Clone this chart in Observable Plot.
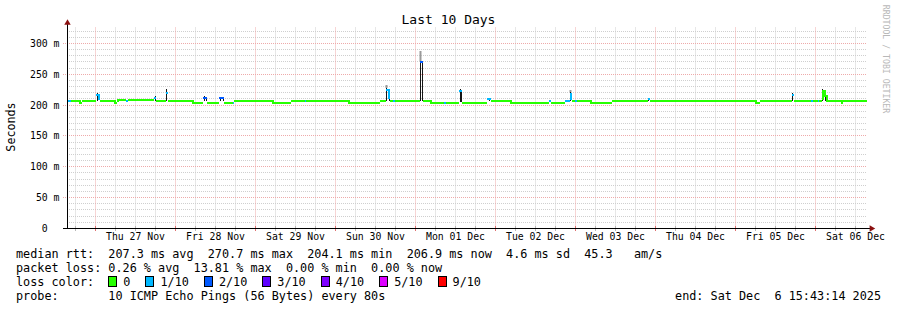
<!DOCTYPE html>
<html><head><meta charset="utf-8">
<script src="https://cdn.jsdelivr.net/npm/d3@7"></script>
<script src="https://cdn.jsdelivr.net/npm/@observablehq/plot@0.6"></script>
<style>
body{margin:0;background:#fff}
#wrap{position:relative;width:897px;height:310px;font-family:"DejaVu Sans Mono",monospace;color:#000;overflow:hidden;background:#fff}
#chart{position:absolute;left:0;top:0}
#title{position:absolute;left:0;width:897px;top:11.5px;text-align:center;font-size:13px;line-height:15px;white-space:pre}
#ylab{position:absolute;left:11px;top:127px;font-size:11.7px;line-height:14px;transform:translate(-50%,-50%) rotate(-90deg);white-space:pre}
#mark{position:absolute;left:886px;top:59px;font-size:8.2px;line-height:10px;color:#b8b8b8;transform:translate(-50%,-50%) rotate(90deg);white-space:pre}
#legend{position:absolute;left:16px;top:247px;font-size:11.8px;line-height:14px;white-space:pre}
#legend .row{height:14px}
.sw{display:inline-block;width:7px;height:9px;border:1px solid #000;vertical-align:-1px;margin-right:6px}
.lt{margin-right:15px}
#end{position:absolute;right:16px;top:289px;font-size:11.8px;line-height:14px;white-space:pre}
</style></head>
<body>
<div id="wrap">
  <div id="chart"></div>
  <div id="title"></div>
  <div id="ylab"></div>
  <div id="mark"></div>
  <div id="legend"></div>
  <div id="end"></div>
</div>
<script>
// ---------- data ----------
const titleText = "Last 10 Days";
const yLabel = "Seconds";
const watermark = "RRDTOOL / TOBI OETIKER";
const startTime = "2025-11-26T15:43:14";
const endTime = "2025-12-06T15:43:14";

const yTicks = [0, 50, 100, 150, 200, 250, 300];
const yTickLabels = ["0\u00a0\u00a0", "50 m", "100 m", "150 m", "200 m", "250 m", "300 m"];

const lossLevels = [0, 1, 2, 3, 4, 5, 9];
const lossLabels = ["0", "1/10", "2/10", "3/10", "4/10", "5/10", "9/10"];
const lossColors = ["#26ff00", "#00b8ff", "#0059ff", "#5e00ff", "#7e00ff", "#dd00ff", "#ff0000"];

// median RTT (ms), step starts, with loss count for each step
const medianTimes = ["2025-11-26T15:43","2025-11-26T16:55","2025-11-26T19:19","2025-11-26T20:13","2025-11-27T00:34","2025-11-27T01:01","2025-11-27T01:37","2025-11-27T05:49","2025-11-27T06:43","2025-11-27T09:34","2025-11-27T10:01","2025-11-27T17:58","2025-11-27T18:25","2025-11-27T21:25","2025-11-27T22:01","2025-11-28T05:13","2025-11-28T08:31","2025-11-28T09:43","2025-11-28T13:19","2025-11-28T14:49","2025-11-28T17:31","2025-11-28T17:58","2025-11-29T05:13","2025-11-29T10:55","2025-11-29T15:07","2025-11-29T15:34","2025-11-30T04:01","2025-11-30T13:37","2025-11-30T15:25","2025-11-30T16:01","2025-11-30T16:46","2025-11-30T17:31","2025-11-30T18:07","2025-12-01T01:46","2025-12-01T02:31","2025-12-01T04:37","2025-12-01T08:58","2025-12-01T09:25","2025-12-01T13:28","2025-12-01T14:13","2025-12-01T21:43","2025-12-01T22:55","2025-12-02T04:37","2025-12-02T16:19","2025-12-02T17:04","2025-12-02T21:07","2025-12-02T22:37","2025-12-02T23:13","2025-12-03T00:07","2025-12-03T00:43","2025-12-03T04:37","2025-12-03T11:13","2025-12-03T22:01","2025-12-03T22:46","2025-12-05T06:07","2025-12-05T07:37","2025-12-05T17:13","2025-12-05T17:58","2025-12-05T22:55","2025-12-05T23:31","2025-12-06T01:01","2025-12-06T01:19","2025-12-06T02:13","2025-12-06T02:58","2025-12-06T03:25","2025-12-06T07:55","2025-12-06T08:31"];
const medianValues = [207,207,204,207,218,211,207,205,208.5,208,208.5,213,207,220,207,205,213,205,212,205,205,207,205,207,207,207,204.5,207,226,212,207,207,207,270,207,204.5,204.5,204.5,224,204.5,210,207,204.5,207,204.5,207,219,207,207,207,205,207,211,207,205,207,218,207,207,207,207,207,223,215,207,205,207];
const medianLoss = [1,0,0,0,1,1,0,0,0,1,0,1,0,1,0,0,2,0,2,0,1,0,0,0,1,0,0,0,1,1,0,1,0,2,0,0,1,0,1,0,1,0,0,1,0,1,1,0,1,0,0,0,1,0,0,0,1,0,1,0,1,0,0,0,0,0,0];

// smoke (spread of the individual pings) at the spikes
const smokeTimes = ["2025-11-27T00:43","2025-11-27T18:07","2025-11-27T21:34","2025-11-28T08:58","2025-11-28T09:25","2025-11-28T13:37","2025-11-28T14:31","2025-11-30T15:34","2025-11-30T16:28","2025-12-01T01:46","2025-12-01T02:22","2025-12-01T13:37","2025-12-01T14:04","2025-12-01T22:19","2025-12-02T22:46","2025-12-03T22:10","2025-12-05T17:22","2025-12-06T02:22","2025-12-06T03:07"];
const smokeLow = [206,206,206,206,206,206,206,206,206,206,206,205,205,206,206,206,206,206,206];
const smokeDark = [219,214,225,214,213,212,212,227,212,270,270,225,224,211,220,211,219,225,216];
const smokeLight = [219,214,225,214,213,212,212,231,212,287,270,225,224,211,223,211,219,225,216];

const rttStats = ["207.3 ms avg", "270.7 ms max", "204.1 ms min", "206.9 ms now", "4.6 ms sd", "45.3   am/s"];
const lossStats = ["0.26 % avg", "13.81 % max", "0.00 % min", "0.00 % now"];
const probeText = "10 ICMP Echo Pings (56 Bytes) every 80s";
const endText = "end: Sat Dec  6 15:43:14 2025";

// ---------- build ----------
const x0 = new Date(startTime), x1 = new Date(endTime);
const steps = medianTimes.map((t, i) => ({
  t0: new Date(t),
  t1: i + 1 < medianTimes.length ? new Date(medianTimes[i + 1]) : x1,
  v: medianValues[i], loss: medianLoss[i]
}));
const joins = steps.slice(1).map((s, i) => ({t: s.t0, a: steps[i].v, b: s.v, loss: s.loss, same: steps[i].loss === s.loss}))
  .filter(d => d.same && d.a !== d.b);
const smoke = smokeTimes.map((t, i) => ({t: new Date(t), lo: smokeLow[i], dark: smokeDark[i], light: smokeLight[i]}));

const days = d3.timeDay.range(d3.timeDay.ceil(x0), x1);
const sixHours = d3.timeHour.every(6).range(x0, x1).filter(d => d.getHours() !== 0);
const noons = days.map(d => d3.timeHour.offset(d, 12)).filter(d => d < x1);
const minorY = d3.range(10, 330, 10).filter(v => v % 50 !== 0);

const majorColor = "#eeaaaa", minorColor = "#cfcfcf";

const chart = Plot.plot({
  width: 897, height: 245,
  marginLeft: 67, marginRight: 30, marginTop: 27.5, marginBottom: 17,
  style: {fontFamily: "DejaVu Sans Mono", fontSize: "9.8px", background: "transparent", overflow: "visible", color: "#000"},
  x: {type: "time", domain: [x0, x1], label: null, round: true},
  y: {domain: [0, 325], label: null, round: true},
  color: {domain: lossLevels, range: lossColors},
  marks: [
    Plot.ruleY(minorY, {stroke: minorColor, strokeDasharray: "1,1"}),
    Plot.ruleX(sixHours, {stroke: minorColor, strokeDasharray: "1,1"}),
    Plot.ruleY(yTicks.slice(1), {stroke: majorColor, strokeDasharray: "1,1", insetLeft: -4}),
    Plot.ruleX(days, {stroke: majorColor, strokeDasharray: "1,1"}),
    // axis tick marks on the time axis
    Plot.ruleX(sixHours, {y1: 2.5, y2: -5, stroke: "#b8b8b8"}),
    Plot.ruleX(days, {y1: 2.5, y2: -5, stroke: "#e07070"}),
    // smoke
    Plot.ruleX(smoke, {x: "t", y1: "dark", y2: "light", stroke: "#9a9a9a", strokeWidth: 2}),
    Plot.ruleX(smoke, {x: "t", y1: "lo", y2: "dark", stroke: "#151515", strokeWidth: 1}),
    // median line coloured by loss
    Plot.ruleX(joins, {x: "t", y1: "a", y2: "b", stroke: "loss", strokeWidth: 2, dx: 0.5}),
    Plot.ruleY(steps, {x1: "t0", x2: "t1", y: "v", stroke: "loss", strokeWidth: 2, dy: 0.5}),
    // axes
    Plot.ruleY([0], {stroke: "#000", insetLeft: -4, insetRight: -3}),
    Plot.ruleX([x0], {stroke: "#000", insetTop: -5}),
    Plot.dot([0], {frameAnchor: "top-left", symbol: "triangle", r: 2.4, fill: "#8b1010", stroke: "none", dy: -5}),
    Plot.dot([0], {frameAnchor: "bottom-right", symbol: "triangle", r: 2.4, fill: "#8b1010", stroke: "none", rotate: 90, dx: 4}),
    Plot.axisY(yTicks, {tickFormat: d => yTickLabels[yTicks.indexOf(d)], tickSize: 0, tickPadding: 8, label: null, fontSize: 9.8}),
    Plot.axisX(noons, {tickFormat: d3.timeFormat("%a %d %b"), tickSize: 0, tickPadding: 5, label: null, fontSize: 9.8})
  ]
});
chart.style.whiteSpace = "pre";
document.getElementById("chart").appendChild(chart);

document.getElementById("title").textContent = titleText;
document.getElementById("ylab").textContent = yLabel;
document.getElementById("mark").textContent = watermark;
document.getElementById("end").textContent = endText;

const legend = document.getElementById("legend");
function row(text) { const r = document.createElement("div"); r.className = "row"; r.textContent = text; legend.appendChild(r); return r; }
row("median rtt:  " + rttStats.join("  "));
row("packet loss: " + lossStats.join("  "));
const lr = row("loss color:  ");
lossLabels.forEach((lab, i) => {
  const sw = document.createElement("span"); sw.className = "sw"; sw.style.background = lossColors[i]; lr.appendChild(sw);
  const t = document.createElement("span"); t.className = "lt"; t.textContent = lab; lr.appendChild(t);
});
row("probe:       " + probeText);
</script>
</body></html>
